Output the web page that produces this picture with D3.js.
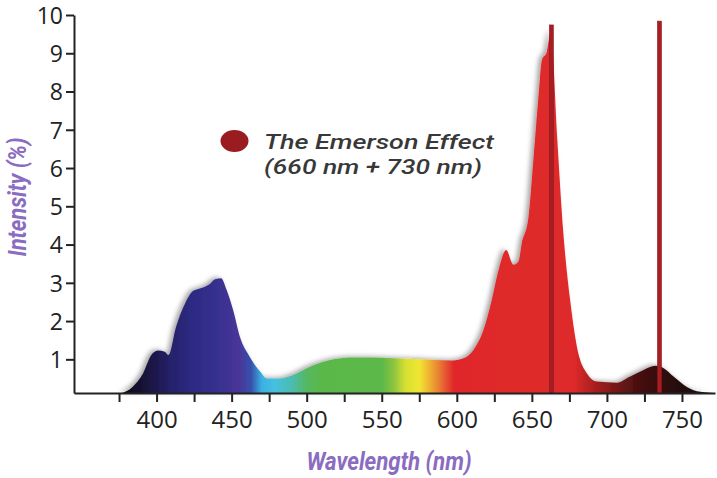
<!DOCTYPE html>
<html>
<head>
<meta charset="utf-8">
<script src="https://cdn.jsdelivr.net/npm/d3@7"></script>
<style>
  body { margin: 0; background: #fff; }
  svg { display: block; }
</style>
</head>
<body>
<script>
// spectrum: wavelength (nm) and intensity (%)
var wavelengths = [377, 384, 391, 396.5, 401, 405.5, 408, 413, 419, 424.5, 431, 435.5, 439, 443, 446.7, 451, 455.5, 462, 469, 473.5,
	482, 491, 500, 509, 518, 531, 544, 558, 575, 596, 604.5, 611, 617.8, 623.3, 627.8, 632.9, 637.8, 641, 643.3, 647.8,
	651, 654.4, 656.7, 660, 662.7, 666.7, 671, 675.5, 680, 686.7, 693.3, 706.7, 715.5, 724.4, 732.2, 737.8, 744.4, 753.3, 762.2, 771];
var intensity = [0.12, 0.28, 0.63, 1.11, 1.23, 1.2, 1.11, 1.85, 2.46, 2.79, 2.88, 2.97, 3.09, 3.12, 2.81, 2.29, 1.59, 1.07, 0.68, 0.5,
	0.5, 0.59, 0.77, 0.91, 1.0, 1.05, 1.05, 1.03, 1.0, 0.97, 1.03, 1.24, 1.77, 2.55, 3.33, 3.86, 3.47, 3.55, 4.03, 4.73,
	6.21, 7.86, 8.82, 9.04, 9.56, 6.9, 4.29, 2.55, 1.33, 0.63, 0.42, 0.39, 0.55, 0.72, 0.83, 0.77, 0.55, 0.28, 0.15, 0.12];

// colour of the fill along the wavelength axis
var colorStops = [375, 395, 410, 425, 440, 455, 463, 470, 478, 490, 500, 510, 550, 558, 566, 575, 582, 588, 593, 598, 678, 690, 705, 720, 740, 772];
var colorValues = ['#0a0a10', '#1a1440', '#26226c', '#2d2b84', '#36308f', '#4a3598', '#3650ac', '#3ab0e2', '#44c0e0', '#4cbcb0', '#55b860',
	'#5ab848', '#5cb848', '#8cc440', '#d8e030', '#f0e630', '#f0b030', '#e88030', '#e65030', '#e0282a', '#de2a2a', '#b02020',
	'#7a1818', '#4a1010', '#2e0e0e', '#100808'];

// the two emerson lines, drawn where they sit in the picture
var lineWavelengths = [663, 735];
var lineTops = [9.74, 9.84];

var xTicks = [375, 400, 425, 450, 475, 500, 525, 550, 575, 600, 625, 650, 675, 700, 725, 750];
var xLabels = [400, 450, 500, 550, 600, 650, 700, 750];
var yTicks = [1, 2, 3, 4, 5, 6, 7, 8, 9, 10];
var legendLines = ['The Emerson Effect', '(660 nm + 730 nm)'];
var legendWidths = [230, 218];

var w = 717, h = 478;

var svg = d3.select('body').append('svg')
	.attr('width', w)
	.attr('height', h);

var x = d3.scaleLinear().domain([345, 772]).range([74, 715]);
var y = d3.scaleLinear().domain([0.12, 10]).range([393, 15]);

var defs = svg.append('defs');

var grad = defs.append('linearGradient')
	.attr('id', 'spectrum')
	.attr('gradientUnits', 'userSpaceOnUse')
	.attr('x1', x(colorStops[0])).attr('x2', x(colorStops[colorStops.length - 1]))
	.attr('y1', 0).attr('y2', 0);

grad.selectAll('stop')
	.data(colorStops)
	.enter()
	.append('stop')
	.attr('offset', function(d){
		return (d - colorStops[0]) / (colorStops[colorStops.length - 1] - colorStops[0]);
	})
	.attr('stop-color', function(d, i){ return colorValues[i]; });

var shadow = defs.append('filter')
	.attr('id', 'shadow')
	.attr('x', '-10%').attr('y', '-10%')
	.attr('width', '120%').attr('height', '120%');
shadow.append('feDropShadow')
	.attr('dx', -3).attr('dy', -1)
	.attr('stdDeviation', 2.5)
	.attr('flood-color', '#000')
	.attr('flood-opacity', 0.35);

var points = wavelengths.map(function(d, i){ return [d, intensity[i]]; });

var area = d3.area()
	.x(function(d){ return x(d[0]); })
	.y0(y(y.domain()[0]))
	.y1(function(d){ return y(d[1]); })
	.curve(d3.curveMonotoneX);

svg.append('path')
	.datum(points)
	.attr('d', area)
	.attr('fill', 'url(#spectrum)')
	.attr('filter', 'url(#shadow)');

// emerson lines
svg.selectAll('rect.emerson')
	.data(lineWavelengths)
	.enter()
	.append('rect')
	.attr('class', 'emerson')
	.attr('x', function(d){ return x(d) - 2; })
	.attr('width', 4)
	.attr('y', function(d, i){ return y(lineTops[i]); })
	.attr('height', function(d, i){ return y(y.domain()[0]) - y(lineTops[i]); })
	.attr('fill', '#a61d23')
	.attr('stroke', '#8e171c')
	.attr('stroke-width', 0.6);

// axes
var xAxis = svg.append('g')
	.attr('transform', 'translate(0,' + y(y.domain()[0]) + ')')
	.call(d3.axisBottom(x)
		.tickValues(xTicks)
		.tickSize(9)
		.tickSizeOuter(0)
		.tickFormat(function(d){ return xLabels.indexOf(d) > -1 ? d : ''; }));

xAxis.selectAll('text')
	.attr('y', 35)
	.attr('dy', null)
	.style('font-family', '"Open Sans", sans-serif')
	.style('font-size', '24px')
	.attr('fill', '#222');

var yAxis = svg.append('g')
	.attr('transform', 'translate(' + x(x.domain()[0]) + ',0)')
	.call(d3.axisLeft(y)
		.tickValues(yTicks)
		.tickSize(8)
		.tickSizeOuter(0));

yAxis.selectAll('text')
	.attr('x', -11)
	.attr('dy', '0.36em')
	.style('font-family', '"Open Sans", sans-serif')
	.style('font-size', '23px')
	.attr('fill', '#222');

svg.selectAll('.domain, .tick line')
	.attr('stroke', '#222')
	.attr('stroke-width', 2);

// axis titles (condensed in the original, so squeeze to its width)
svg.append('text')
	.attr('transform', 'translate(17,197) rotate(-90)')
	.attr('text-anchor', 'middle')
	.attr('dy', '0.35em')
	.attr('textLength', 119)
	.attr('lengthAdjust', 'spacingAndGlyphs')
	.style('font-family', 'Roboto, sans-serif')
	.style('font-size', '25px')
	.style('font-weight', 'bold')
	.style('font-style', 'italic')
	.attr('fill', '#8a6cc0')
	.text('Intensity (%)');

svg.append('text')
	.attr('x', 389)
	.attr('y', 470)
	.attr('text-anchor', 'middle')
	.attr('textLength', 165)
	.attr('lengthAdjust', 'spacingAndGlyphs')
	.style('font-family', 'Roboto, sans-serif')
	.style('font-size', '25px')
	.style('font-weight', 'bold')
	.style('font-style', 'italic')
	.attr('fill', '#8a6cc0')
	.text('Wavelength (nm)');

// legend
svg.append('ellipse')
	.attr('cx', 234.5)
	.attr('cy', 141)
	.attr('rx', 14)
	.attr('ry', 11)
	.attr('fill', '#9b1c20');

var legendText = svg.append('text')
	.style('font-family', 'Roboto, sans-serif')
	.style('font-size', '21px')
	.style('font-weight', 500)
	.style('font-style', 'italic')
	.attr('fill', '#383838');

legendText.selectAll('tspan')
	.data(legendLines)
	.enter()
	.append('tspan')
	.attr('x', 264)
	.attr('y', function(d, i){ return 149 + i * 25; })
	.attr('textLength', function(d, i){ return legendWidths[i]; })
	.attr('lengthAdjust', 'spacingAndGlyphs')
	.text(function(d){ return d; });
</script>
</body>
</html>
